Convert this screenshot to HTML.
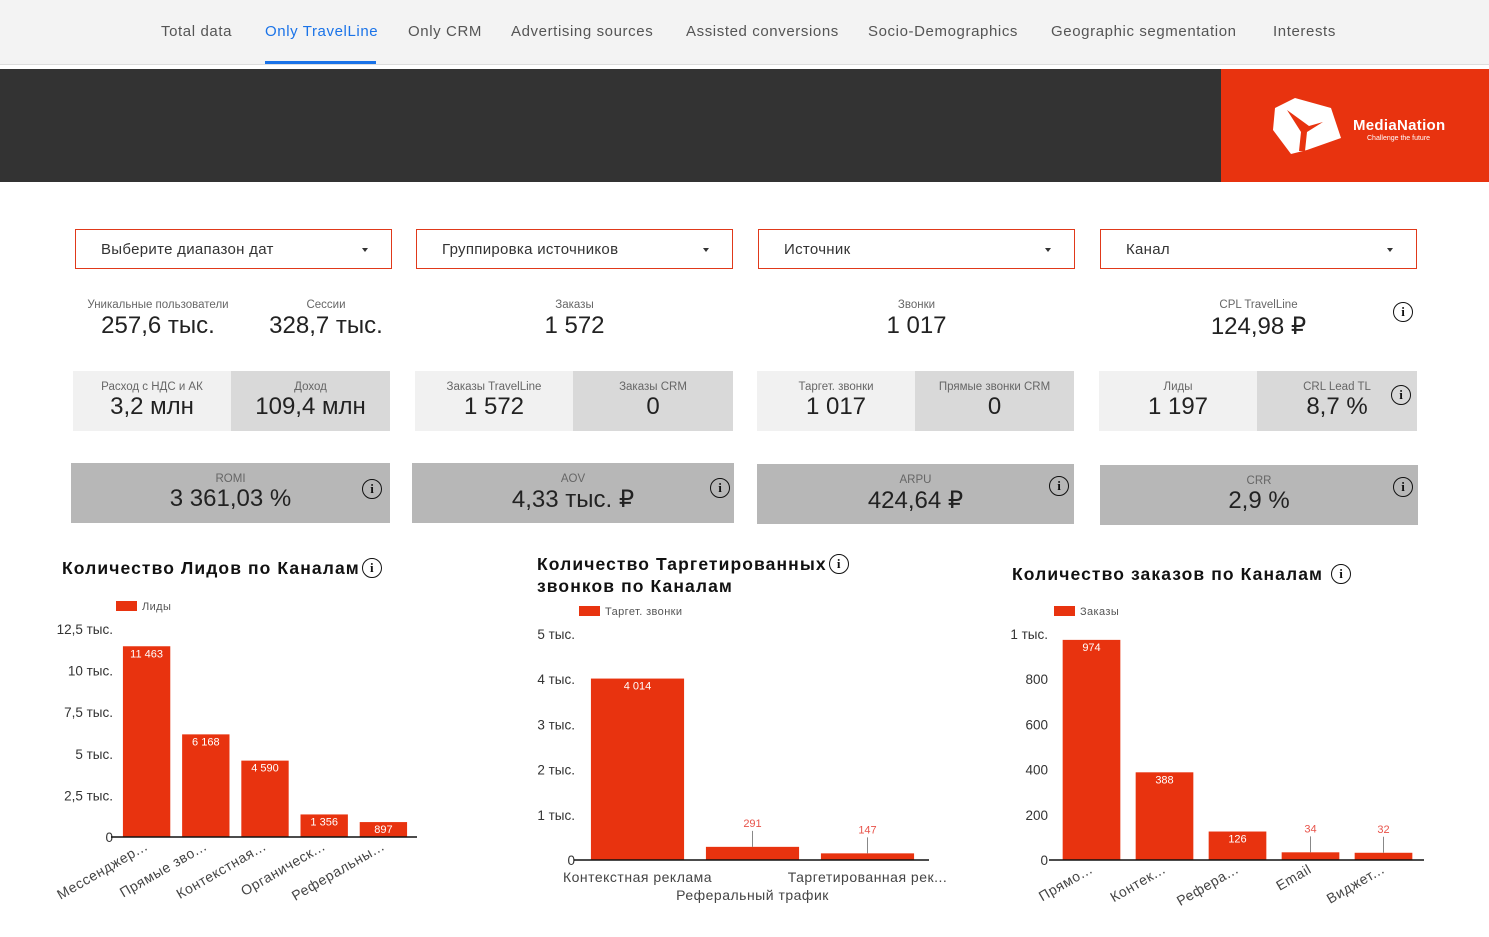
<!DOCTYPE html>
<html><head><meta charset="utf-8">
<style>
*{margin:0;padding:0;box-sizing:border-box}
body{width:1489px;height:937px;overflow:hidden;background:#fff;font-family:"Liberation Sans","Noto Sans CJK SC",sans-serif;position:relative;color:#222}
.a{position:absolute}
.nav{top:0;left:0;width:1489px;height:65px;background:#f3f3f3;border-bottom:1px solid #ddd}
.tab{position:absolute;top:23px;font-size:15px;color:#555;letter-spacing:0.6px}
.dd{position:absolute;top:229px;width:317px;height:40px;border:1px solid #e0391a;font-size:15px;color:#333;padding:11px 0 0 25px;letter-spacing:0.3px}
.dd:after{content:"";position:absolute;right:23px;top:18px;border:3px solid transparent;border-top:4px solid #333}
.c{position:absolute;text-align:center}
.lbl{font-size:11.5px;color:#666}
.val{font-size:24px;color:#222}
.info{position:absolute;width:20px;height:20px;border:1.6px solid #111;border-radius:50%;font:bold 13px "Liberation Serif",serif;text-align:center;line-height:17px;color:#111}
.ii{display:inline-block;vertical-align:middle;width:20px;height:20px;border:1.6px solid #111;border-radius:50%;font:bold 13px "Liberation Serif",serif;text-align:center;line-height:17px;color:#111;letter-spacing:0;margin-left:2px;margin-top:-3px}
.t{position:absolute;font-size:17.5px;font-weight:bold;color:#111;line-height:22px;letter-spacing:1.1px;white-space:nowrap}
</style></head><body>
<div class="a nav">
<span class="tab" style="left:161px">Total data</span>
<span class="tab" style="left:265px;color:#1a73e8">Only TravelLine</span>
<div class="a" style="left:265px;top:61px;width:111px;height:3px;background:#1a73e8"></div>
<span class="tab" style="left:408px">Only CRM</span>
<span class="tab" style="left:511px">Advertising sources</span>
<span class="tab" style="left:686px">Assisted conversions</span>
<span class="tab" style="left:868px">Socio-Demographics</span>
<span class="tab" style="left:1051px">Geographic segmentation</span>
<span class="tab" style="left:1273px">Interests</span>
</div>
<div class="a" style="left:0;top:69px;width:1221px;height:113px;background:#333"></div>
<div class="a" style="left:1221px;top:69px;width:268px;height:113px;background:#e8330f">
<svg class="a" style="left:50px;top:27px" width="72" height="60"><polygon points="4,12 24,2 60,12 70,42 36,54 20,58 2,34" fill="#fff"/><path d="M16,14 L30,36 L28,55 L34,55 L36,36 L52,26 L38,30 Z" fill="#e8330f"/></svg>
<div class="a" style="left:132px;top:48px;color:#fff;font-size:15px;font-weight:bold;letter-spacing:0.3px">MediaNation</div>
<div class="a" style="left:146px;top:66px;color:#fff;font-size:7px">Challenge the future</div>
</div>

<div class="dd" style="left:75px">Выберите диапазон дат</div>
<div class="dd" style="left:416px">Группировка источников</div>
<div class="dd" style="left:758px">Источник</div>
<div class="dd" style="left:1100px">Канал</div>

<div class="c" style="left:72px;top:299px;width:172px"><div class="lbl">Уникальные пользователи</div><div class="val" style="margin-top:1px">257,6 тыс.</div></div>
<div class="c" style="left:240px;top:299px;width:172px"><div class="lbl">Сессии</div><div class="val" style="margin-top:1px">328,7 тыс.</div></div>
<div class="c" style="left:416px;top:299px;width:317px"><div class="lbl">Заказы</div><div class="val" style="margin-top:1px">1 572</div></div>
<div class="c" style="left:758px;top:299px;width:317px"><div class="lbl">Звонки</div><div class="val" style="margin-top:1px">1 017</div></div>
<div class="c" style="left:1100px;top:299px;width:317px"><div class="lbl">CPL TravelLine</div><div class="val" style="margin-top:1px">124,98 ₽</div></div>
<div class="info" style="left:1393px;top:302px">i</div>

<div class="c" style="left:73px;top:371px;width:158px;height:60px;background:#f1f1f1;padding-top:10px"><div class="lbl">Расход с НДС и АК</div><div class="val">3,2 млн</div></div>
<div class="c" style="left:231px;top:371px;width:159px;height:60px;background:#d9d9d9;padding-top:10px"><div class="lbl">Доход</div><div class="val">109,4 млн</div></div>
<div class="c" style="left:415px;top:371px;width:158px;height:60px;background:#f1f1f1;padding-top:10px"><div class="lbl">Заказы TravelLine</div><div class="val">1 572</div></div>
<div class="c" style="left:573px;top:371px;width:160px;height:60px;background:#d9d9d9;padding-top:10px"><div class="lbl">Заказы CRM</div><div class="val">0</div></div>
<div class="c" style="left:757px;top:371px;width:158px;height:60px;background:#f1f1f1;padding-top:10px"><div class="lbl">Таргет. звонки</div><div class="val">1 017</div></div>
<div class="c" style="left:915px;top:371px;width:159px;height:60px;background:#d9d9d9;padding-top:10px"><div class="lbl">Прямые звонки CRM</div><div class="val">0</div></div>
<div class="c" style="left:1099px;top:371px;width:158px;height:60px;background:#f1f1f1;padding-top:10px"><div class="lbl">Лиды</div><div class="val">1 197</div></div>
<div class="c" style="left:1257px;top:371px;width:160px;height:60px;background:#d9d9d9;padding-top:10px"><div class="lbl">CRL Lead TL</div><div class="val">8,7 %</div></div>
<div class="info" style="left:1391px;top:385px">i</div>

<div class="c" style="left:71px;top:463px;width:319px;height:60px;background:#b7b7b7;padding-top:10px"><div class="lbl">ROMI</div><div class="val">3 361,03 %</div></div>
<div class="info" style="left:362px;top:479px">i</div>
<div class="c" style="left:412px;top:463px;width:322px;height:60px;background:#b7b7b7;padding-top:10px"><div class="lbl">AOV</div><div class="val">4,33 тыс. ₽</div></div>
<div class="info" style="left:710px;top:478px">i</div>
<div class="c" style="left:757px;top:464px;width:317px;height:60px;background:#b7b7b7;padding-top:10px"><div class="lbl">ARPU</div><div class="val">424,64 ₽</div></div>
<div class="info" style="left:1049px;top:476px">i</div>
<div class="c" style="left:1100px;top:465px;width:318px;height:60px;background:#b7b7b7;padding-top:10px"><div class="lbl">CRR</div><div class="val">2,9 %</div></div>
<div class="info" style="left:1393px;top:477px">i</div>

<div class="t" style="left:62px;top:557px">Количество Лидов по Каналам<span class="ii">i</span></div>
<div class="t" style="left:537px;top:553px">Количество Таргетированных<span class="ii">i</span><br>звонков по Каналам</div>
<div class="t" style="left:1012px;top:563px">Количество заказов по Каналам <span class="ii">i</span></div>

<svg class="a" style="left:0;top:0" width="1489" height="937" id="charts"></svg>

<script>
const leadCats = ["Мессенджер...","Прямые зво...","Контекстная...","Органическ...","Реферальны..."];
const leadVals = [11463,6168,4590,1356,897];
const leadLabels = ["11 463","6 168","4 590","1 356","897"];
const leadTicks = [0,2500,5000,7500,10000,12500];
const leadTickLabels = ["0","2,5 тыс.","5 тыс.","7,5 тыс.","10 тыс.","12,5 тыс."];

const callCats = ["Контекстная реклама","Реферальный трафик","Таргетированная рек..."];
const callVals = [4014,291,147];
const callLabels = ["4 014","291","147"];
const callTicks = [0,1000,2000,3000,4000,5000];
const callTickLabels = ["0","1 тыс.","2 тыс.","3 тыс.","4 тыс.","5 тыс."];

const orderCats = ["Прямо...","Контек...","Рефера...","Email","Виджет..."];
const orderVals = [974,388,126,34,32];
const orderLabels = ["974","388","126","34","32"];
const orderTicks = [0,200,400,600,800,1000];
const orderTickLabels = ["0","200","400","600","800","1 тыс."];

const svg = document.getElementById('charts');
const NS = 'http://www.w3.org/2000/svg';
function mk(tag, at, txt){
  const e = document.createElementNS(NS, tag);
  for (const k in at) e.setAttribute(k, at[k]);
  if (txt !== undefined) e.textContent = txt;
  svg.appendChild(e);
  return e;
}
function chart(o){
  const y = v => o.y0 - (v / o.max) * (o.y0 - o.yTop);
  const slot = (o.x1 - o.x0) / o.cats.length;
  const bw = slot * o.bwf;
  const bx = i => o.x0 + slot * i + (slot - bw) / 2;
  const lg = mk('rect', {x:o.legX, y:o.legY, width:21, height:10, fill:'#e8330f'});
  
  
  const lt = mk('text', {x:o.legX+26, y:o.legY+9, 'font-size':11, fill:'#555', 'letter-spacing':0.4}, o.legend);
  
  
  o.ticks.forEach((t, i) => {
    const tx = mk('text', {x:o.tickX, y:y(t)+5, 'font-size':13.5, fill:'#333', 'text-anchor':'end'}, o.tickLabels[i]);
    
    
  });
  o.vals.forEach((v, i) => {
    const top = y(v);
    const r = mk('rect', {x:bx(i), y:top, width:bw, height:o.y0 - top, fill:'#e8330f'});
    
    
    const cx = bx(i) + bw / 2;
    let lab;
    if (o.y0 - top > 14) {
      lab = mk('text', {x:cx, y:top+11, 'font-size':11, fill:'#fff', 'text-anchor':'middle'}, o.labels[i]);
    } else {
      mk('line', {x1:cx, y1:top, x2:cx, y2:top-16, stroke:'#888', 'stroke-width':1});
      lab = mk('text', {x:cx, y:top-20, 'font-size':11, fill:'#e8534a', 'text-anchor':'middle'}, o.labels[i]);
    }
    
    
    let cl;
    if (o.rot) {
      const lx = cx + 2, ly = o.y0 + 12;
      cl = mk('text', {x:lx, y:ly, 'font-size':14, fill:'#444', 'letter-spacing':0.6, 'text-anchor':'end', transform:'rotate(-30 '+lx+' '+ly+')'}, o.cats[i]);
    } else {
      cl = mk('text', {x:cx, y:o.y0 + 22 + (i % 2 === 1 ? 18 : 0), 'font-size':14, fill:'#444', 'letter-spacing':0.5, 'text-anchor':'middle'}, o.cats[i]);
    }
    
    
  });
  const ax = mk('line', {x1:o.x0-6, y1:o.y0, x2:o.x1+4, y2:o.y0, stroke:'#111', 'stroke-width':1.5});
  
  
}
chart({name:'leads-chart', cats:leadCats, vals:leadVals, labels:leadLabels, ticks:leadTicks, tickLabels:leadTickLabels,
  max:12500, y0:837, yTop:629, x0:117, x1:413, bwf:0.8, tickX:113, legX:116, legY:601, legend:'Лиды', rot:true});
chart({name:'calls-chart', cats:callCats, vals:callVals, labels:callLabels, ticks:callTicks, tickLabels:callTickLabels,
  max:5000, y0:860, yTop:634, x0:580, x1:925, bwf:0.81, tickX:575, legX:579, legY:606, legend:'Таргет. звонки', rot:false});
chart({name:'orders-chart', cats:orderCats, vals:orderVals, labels:orderLabels, ticks:orderTicks, tickLabels:orderTickLabels,
  max:1000, y0:860, yTop:634, x0:1055, x1:1420, bwf:0.79, tickX:1048, legX:1054, legY:606, legend:'Заказы', rot:true});
</script>
</body></html>
